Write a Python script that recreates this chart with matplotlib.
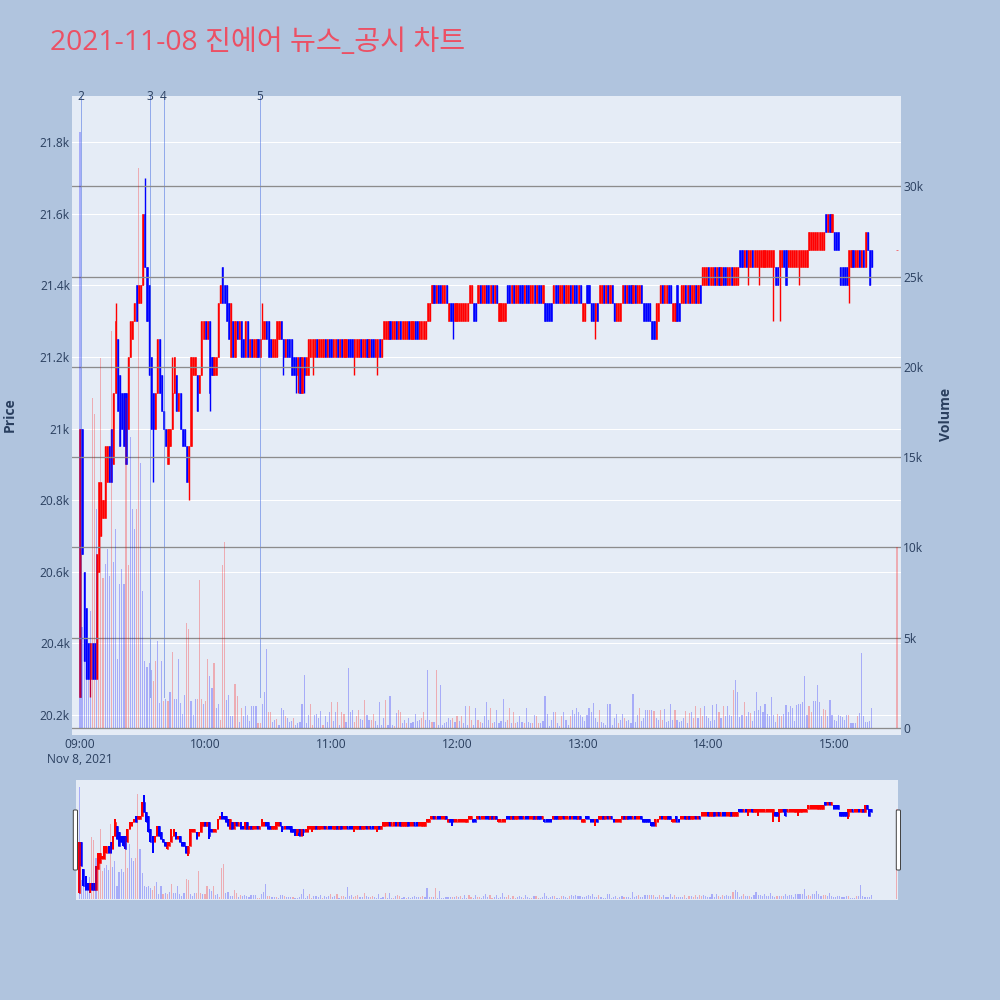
import matplotlib
matplotlib.use("Agg")
import matplotlib.pyplot as plt
from matplotlib.patches import FancyBboxPatch
from matplotlib.colors import to_rgba
import matplotlib.transforms as mtransforms

plt.rcParams['font.family'] = ['Open Sans', 'Noto Sans CJK KR', 'DejaVu Sans']

# ---------------- data ----------------
title = "2021-11-08 진에어 뉴스_공시 차트"
minutes = list(range(379)) + [390]          # minutes after 09:00
opens = [
    20250, 21000, 20600, 20500, 20400, 20300, 20400, 20400, 20300, 20600,
    20700, 20750, 20750, 20850, 20950, 21000, 20900, 21100, 21250, 21150,
    21100, 21100, 21100, 21000, 21200, 21250, 21300, 21400, 21350, 21350,
    21400, 21600, 21450, 21400, 21200, 21100, 21000, 21100, 21250, 21150,
    21050, 21000, 20900, 20950, 21000, 21100, 21150, 21050, 21100, 21000,
    21000, 20950, 20850, 20950, 21150, 21150, 21150, 21100, 21150, 21250,
    21300, 21250, 21300, 21200, 21150, 21150, 21200, 21350, 21450, 21400,
    21400, 21350, 21200, 21300, 21200, 21300, 21250, 21300, 21250, 21200,
    21300, 21200, 21250, 21200, 21200, 21250, 21200, 21250, 21250, 21300,
    21300, 21250, 21200, 21200, 21200, 21250, 21300, 21250, 21200, 21250,
    21250, 21250, 21200, 21200, 21150, 21200, 21100, 21200, 21150, 21150,
    21200, 21200, 21200, 21250, 21200, 21200, 21200, 21250, 21200, 21250,
    21250, 21200, 21200, 21250, 21200, 21250, 21200, 21200, 21250, 21250,
    21250, 21200, 21200, 21200, 21250, 21200, 21200, 21250, 21200, 21250,
    21250, 21200, 21200, 21250, 21200, 21250, 21250, 21250, 21300, 21250,
    21250, 21300, 21250, 21300, 21250, 21250, 21250, 21300, 21250, 21250,
    21300, 21300, 21250, 21250, 21250, 21250, 21300, 21300, 21350, 21400,
    21350, 21400, 21400, 21350, 21350, 21400, 21300, 21350, 21350, 21300,
    21300, 21300, 21300, 21300, 21300, 21300, 21350, 21350, 21350, 21350,
    21350, 21400, 21350, 21350, 21400, 21400, 21350, 21400, 21350, 21400,
    21300, 21300, 21300, 21300, 21400, 21400, 21350, 21400, 21350, 21350,
    21400, 21400, 21350, 21400, 21400, 21350, 21350, 21400, 21350, 21400,
    21400, 21350, 21350, 21350, 21350, 21350, 21350, 21400, 21400, 21350,
    21350, 21400, 21350, 21350, 21400, 21350, 21400, 21400, 21350, 21400,
    21300, 21300, 21400, 21400, 21350, 21350, 21300, 21350, 21350, 21350,
    21400, 21350, 21400, 21350, 21400, 21350, 21300, 21300, 21300, 21350,
    21400, 21350, 21400, 21400, 21350, 21400, 21350, 21350, 21400, 21350,
    21350, 21350, 21350, 21300, 21300, 21250, 21300, 21350, 21400, 21350,
    21350, 21400, 21400, 21300, 21300, 21400, 21350, 21350, 21350, 21400,
    21350, 21400, 21350, 21350, 21400, 21350, 21400, 21400, 21400, 21400,
    21450, 21400, 21400, 21450, 21400, 21450, 21400, 21450, 21450, 21400,
    21400, 21450, 21400, 21400, 21400, 21500, 21500, 21450, 21500, 21450,
    21450, 21500, 21450, 21450, 21450, 21450, 21450, 21450, 21450, 21450,
    21450, 21450, 21450, 21450, 21450, 21450, 21500, 21500, 21450, 21450,
    21450, 21450, 21450, 21450, 21450, 21450, 21450, 21450, 21500, 21500,
    21500, 21500, 21500, 21500, 21500, 21500, 21600, 21550, 21600, 21550,
    21550, 21550, 21550, 21450, 21450, 21450, 21450, 21400, 21450, 21500,
    21450, 21450, 21500, 21450, 21500, 21450, 21550, 21500, 21500,
    21500,
]
closes = [
    21000, 20650, 20350, 20300, 20300, 20400, 20300, 20300, 20650, 20850,
    20850, 20800, 20950, 20950, 20850, 20850, 21100, 21300, 21050, 20950,
    21000, 20950, 20900, 21200, 21300, 21300, 21350, 21300, 21400, 21400,
    21600, 21450, 21300, 21150, 21000, 21000, 21100, 21250, 21100, 21050,
    21000, 20950, 21000, 21000, 21100, 21200, 21050, 21100, 21000, 20950,
    20950, 20850, 20950, 21200, 21200, 21200, 21050, 21150, 21300, 21300,
    21250, 21300, 21100, 21150, 21200, 21200, 21350, 21400, 21350, 21350,
    21300, 21250, 21350, 21200, 21300, 21250, 21300, 21200, 21200, 21300,
    21200, 21250, 21200, 21250, 21250, 21200, 21250, 21300, 21300, 21250,
    21200, 21200, 21250, 21250, 21300, 21300, 21250, 21200, 21250, 21200,
    21200, 21150, 21150, 21150, 21200, 21100, 21200, 21150, 21200, 21250,
    21250, 21250, 21250, 21200, 21250, 21250, 21250, 21200, 21250, 21200,
    21200, 21250, 21250, 21200, 21250, 21200, 21250, 21250, 21200, 21200,
    21200, 21250, 21250, 21250, 21200, 21250, 21250, 21200, 21250, 21200,
    21200, 21250, 21250, 21200, 21250, 21300, 21300, 21300, 21250, 21300,
    21300, 21250, 21300, 21250, 21300, 21300, 21300, 21250, 21300, 21300,
    21250, 21250, 21300, 21300, 21300, 21300, 21350, 21350, 21400, 21350,
    21400, 21350, 21350, 21400, 21400, 21350, 21350, 21300, 21300, 21350,
    21350, 21350, 21350, 21350, 21350, 21350, 21400, 21400, 21300, 21300,
    21400, 21350, 21400, 21400, 21350, 21350, 21400, 21350, 21400, 21350,
    21350, 21350, 21350, 21350, 21350, 21350, 21400, 21350, 21400, 21400,
    21350, 21350, 21400, 21350, 21350, 21400, 21400, 21350, 21400, 21350,
    21350, 21400, 21300, 21300, 21300, 21300, 21400, 21350, 21350, 21400,
    21400, 21350, 21400, 21400, 21350, 21400, 21350, 21350, 21400, 21350,
    21350, 21350, 21350, 21350, 21300, 21300, 21350, 21300, 21400, 21400,
    21350, 21400, 21350, 21400, 21350, 21300, 21350, 21350, 21350, 21400,
    21350, 21400, 21350, 21350, 21400, 21350, 21400, 21400, 21350, 21300,
    21300, 21300, 21300, 21250, 21250, 21350, 21350, 21400, 21350, 21400,
    21400, 21350, 21350, 21350, 21350, 21300, 21300, 21400, 21400, 21350,
    21400, 21350, 21400, 21400, 21350, 21400, 21350, 21450, 21450, 21450,
    21400, 21450, 21450, 21400, 21450, 21400, 21450, 21400, 21400, 21450,
    21450, 21400, 21450, 21450, 21450, 21450, 21450, 21500, 21450, 21500,
    21500, 21450, 21500, 21500, 21500, 21500, 21500, 21500, 21500, 21500,
    21500, 21500, 21400, 21400, 21500, 21500, 21450, 21400, 21500, 21500,
    21500, 21500, 21500, 21500, 21500, 21500, 21500, 21500, 21550, 21550,
    21550, 21550, 21550, 21550, 21550, 21550, 21550, 21600, 21550, 21600,
    21500, 21500, 21500, 21400, 21400, 21400, 21400, 21500, 21500, 21450,
    21500, 21500, 21450, 21500, 21450, 21550, 21500, 21400, 21450,
    21500,
]
# wicks that reach beyond the candle body (minute index -> price)
high_wicks = {17: 21350, 31: 21700, 44: 21200, 87: 21350}
low_wicks = {5: 20250, 35: 20850, 52: 20800, 62: 21050, 97: 21150, 103: 21100,
             104: 21100, 107: 21100, 111: 21150, 131: 21150, 142: 21150,
             178: 21250, 246: 21250, 319: 21400, 324: 21400, 331: 21300,
             334: 21300, 343: 21400, 367: 21350}
volumes = [
    33000, 5600, 4800, 4500, 4600, 6500, 18300, 17400, 12100, 8700,
    20500, 8300, 9100, 9900, 8400, 22000, 9200, 11000, 3800, 8000,
    8800, 8000, 18300, 9000, 16100, 12100, 11000, 12100, 31000, 14700,
    7600, 3700, 3400, 3600, 3200, 2600, 3700, 4800, 1400, 3700,
    1500, 1600, 1500, 2000, 4200, 1600, 1600, 3800, 1400, 800,
    1800, 5800, 5500, 1500, 700, 1600, 1600, 8200, 1600, 1300,
    1500, 3800,
    2850, 2200, 3600, 1100, 1350, 450, 9000, 10300, 1550, 1850,
    650, 650, 2450, 1750, 350, 1100, 650, 1200, 700, 400,
    1200, 1200, 1200, 250, 250, 1350, 2000, 4400, 900, 900,
    350, 450, 500, 150, 1100, 1000, 650, 550, 350, 400,
    550, 150, 250, 350, 1350, 2950, 250, 700, 1350, 150,
    700, 800, 550, 950, 150, 650, 350, 900, 1450, 400,
    900, 1450, 150, 900, 800, 350, 3300, 900, 1000, 350,
    650, 1000, 500, 450, 1550, 700, 450, 450, 800, 400,
    150, 1450, 150, 550, 1550, 150, 1750, 150, 100, 850,
    1000, 900, 250, 450, 250, 550, 250, 350, 800, 400,
    450, 550, 900, 450, 3200, 450, 350, 350, 3200, 150,
    2400, 150, 250, 350, 550, 450, 550, 350, 650, 400,
    650, 250, 1200, 150, 1200, 450, 150, 1100, 450, 350,
    250, 650, 1450, 450, 1100, 250, 350, 1000, 250, 400,
    1600, 350, 450, 1100, 250, 900, 250, 350, 650, 350,
    250, 1100, 350, 300, 250, 700, 650, 250, 250, 400,
    1750, 750, 100, 450, 900, 900, 250, 100, 650, 900,
    450, 150, 650, 1000, 750, 1100, 900, 700, 600, 400,
    700, 1100, 900, 1400, 550, 350, 1000, 350, 250, 150,
    1350, 1350, 150, 550, 800, 250, 450, 800, 550, 400,
    450, 250, 1900, 350, 700, 1100, 400, 550, 1000, 1000,
    1000, 1000, 950, 550, 450, 1000, 450, 1050, 350, 400,
    1350, 450, 1000, 450, 350, 400, 550, 950, 250, 850,
    900, 550, 1200, 550, 1100, 650, 1200, 650, 550, 400,
    1250, 450, 1350, 900, 550, 1200, 650, 1200, 700, 650,
    2100, 2650, 2000, 600, 700, 1450, 650, 900, 850, 400,
    950, 2000, 1000, 1200, 900, 1350, 800, 650, 1700, 700,
    350, 800, 650, 650, 800, 1250, 900, 1200, 1100, 400,
    1250, 1350, 1350, 1450, 2850, 700, 1200, 900, 1500, 1500,
    2400, 1450, 650, 1050, 1000, 650, 1550, 700, 450, 400,
    700, 650, 600, 450, 700, 700, 250, 300, 300, 650,
    850, 4150, 650, 350, 350, 400, 1100,
    10000,
]
# minutes whose volume bar is red (others blue)
vol_red_minutes = [
    6, 7, 9, 10, 11, 15, 22, 23, 27, 28, 35, 36, 40, 42, 44, 51, 52, 56, 57, 58,
    60, 61, 64, 67, 68, 69, 74, 75, 77, 85, 86, 90, 91, 94, 98, 102, 110, 111,
    116, 120, 123, 125, 126, 131, 132, 133, 136, 139, 140, 146, 150, 152, 153,
    156, 163, 164, 168, 170, 178, 180, 182, 186, 187, 190, 191, 196, 197, 204,
    205, 207, 208, 212, 216, 218, 219, 227, 230, 234, 248, 257, 260, 267, 272,
    274, 277, 278, 284, 289, 291, 293, 294, 296, 297, 305, 307, 312, 317, 320,
    333, 335, 348, 349, 355, 356, 367, 371, 390,
]
news_minutes = [0.5, 33.2, 39.9, 86.0]
news_labels = ["2", "3", "4", "5"]
day_low = 20250

price_ticks = [20200, 20400, 20600, 20800, 21000, 21200, 21400, 21600, 21800]
vol_ticks = [0, 5000, 10000, 15000, 20000, 25000, 30000]
time_ticks = [0, 60, 120, 180, 240, 300, 360]
time_labels = ["09:00\nNov 8, 2021", "10:00", "11:00", "12:00", "13:00", "14:00", "15:00"]

# ---------------- style ----------------
BG = '#B0C4DE'
PLOT_BG = '#E5ECF6'
TXT = '#2a3f5f'
UP = '#FF0000'
DOWN = '#0000FF'
PX = 0.72  # one pixel in points at dpi 100

price_range = (20144, 21929)
vol_range = (-390, 35000)

fig = plt.figure(figsize=(10, 10), dpi=100, facecolor=BG)

def draw(axp, axv, body_w, wick_px):
    cols = [UP if c >= o else DOWN for o, c in zip(opens, closes)]
    highs = [high_wicks.get(i, max(o, c)) for i, (o, c) in enumerate(zip(opens, closes))]
    lows = [low_wicks.get(i, min(o, c)) for i, (o, c) in enumerate(zip(opens, closes))]
    axp.vlines(minutes, lows, highs, colors=cols, linewidth=wick_px * PX, zorder=3)
    bottoms = [min(o, c) for o, c in zip(opens, closes)]
    heights = [abs(c - o) for o, c in zip(opens, closes)]
    axp.bar(minutes, heights, bottom=bottoms, width=body_w, color=cols,
            edgecolor=cols, linewidth=0.5 * PX, zorder=3)
    red = set(vol_red_minutes)
    vcols = [to_rgba(UP, 0.27) if m in red else to_rgba(DOWN, 0.27) for m in minutes]
    axv.bar(minutes, volumes, width=0.55, color=vcols, linewidth=0, zorder=2)

# main chart
ax = fig.add_axes([0.072, 0.265, 0.829, 0.639])
ax.set_facecolor(PLOT_BG)
ax2 = ax.twinx()
draw(ax, ax2, 0.55, 1.4)
ax.set_xlim(-3.8, 391.9)
ax.set_ylim(*price_range)
ax2.set_ylim(*vol_range)

for a in (ax, ax2):
    for s in a.spines.values():
        s.set_visible(False)
    a.tick_params(length=0, labelsize=8.64, labelcolor=TXT, pad=1.5)

ax.set_yticks(price_ticks)
ax.set_yticklabels([f"{v/1000:g}k" for v in price_ticks])
ax.grid(axis='y', color='white', linewidth=1 * PX, zorder=0)
ax.set_axisbelow(True)
ax.set_xticks(time_ticks)
ax.set_xticklabels(time_labels, linespacing=1.25)
ax.tick_params(axis='x', pad=2)

ax2.set_yticks(vol_ticks)
ax2.set_yticklabels(["0"] + [f"{v//1000}k" for v in vol_ticks[1:]])
ax2.grid(axis='y', color='#8c8c8c', linewidth=1.3 * PX, zorder=1)

# news markers
trans = mtransforms.blended_transform_factory(ax.transData, ax.transAxes)
for t, lab in zip(news_minutes, news_labels):
    ax.plot([t, t], [day_low, price_range[1]], color='royalblue', alpha=0.5,
            linewidth=1 * PX, zorder=4)
    ax.text(t, 1.0, lab, transform=trans, ha='center', va='center',
            fontsize=8.64, color=TXT, zorder=5, clip_on=False)

fig.text(0.05, 0.957, title, fontsize=20.3, color='#EC5064', ha='left', va='center')
fig.text(0.010, 0.585, 'Price', rotation=90, fontsize=10.1, color=TXT,
         ha='center', va='center', fontweight='bold')
fig.text(0.946, 0.586, 'Volume', rotation=90, fontsize=10.1, color=TXT,
         ha='center', va='center', fontweight='bold')

# range slider
axs = fig.add_axes([0.0763, 0.100, 0.8214, 0.120])
axs.set_facecolor(PLOT_BG)
axs2 = axs.twinx()
draw(axs, axs2, 0.7, 2.0)
axs.set_xlim(-1.4, 390.6)
axs.set_ylim(*price_range)
axs2.set_ylim(*vol_range)
for a in (axs, axs2):
    a.set_xticks([])
    a.set_yticks([])
    for s in a.spines.values():
        s.set_visible(False)

for x0 in (0.0733, 0.8963):
    fig.patches.append(FancyBboxPatch((x0, 0.130), 0.0042, 0.060,
                                      boxstyle="round,pad=0,rounding_size=0.001",
                                      transform=fig.transFigure, facecolor='white',
                                      edgecolor='#444444', linewidth=1 * PX, zorder=10))

fig.savefig('out.png', dpi=100, facecolor=BG)
